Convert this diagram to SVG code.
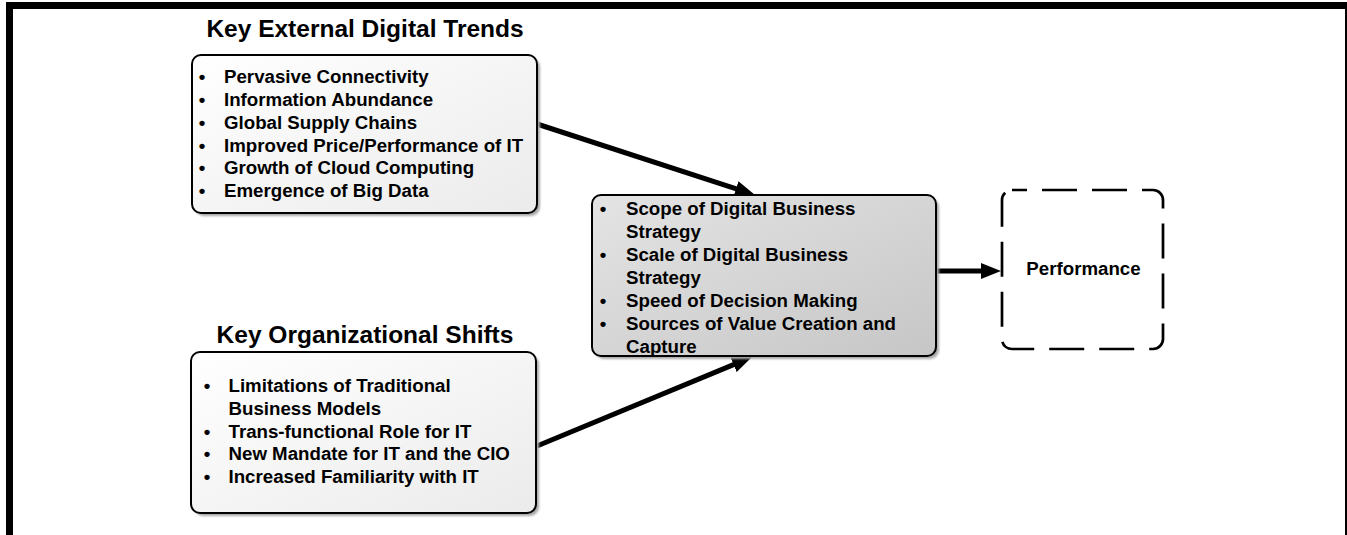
<svg xmlns="http://www.w3.org/2000/svg" width="1347" height="535" viewBox="0 0 1347 535">
<defs>
<linearGradient id="gLight" x1="0" y1="0" x2="1" y2="1">
<stop offset="0" stop-color="#ffffff"/>
<stop offset="1" stop-color="#ebebeb"/>
</linearGradient>
<linearGradient id="gGray" x1="0" y1="0" x2="1" y2="1">
<stop offset="0" stop-color="#e4e4e4"/>
<stop offset="1" stop-color="#c6c6c6"/>
</linearGradient>
<filter id="shadow" x="-5%" y="-5%" width="115%" height="115%">
<feGaussianBlur stdDeviation="1"/>
</filter>
<marker id="arrow" viewBox="0 0 20 16" refX="2" refY="8" markerWidth="20" markerHeight="16" markerUnits="userSpaceOnUse" orient="auto">
<path d="M0,0 L20,8 L0,16 z" fill="#000"/>
</marker>
</defs>
<style>
.title{font-family:"Liberation Sans",Arial,sans-serif;font-weight:bold;font-size:24.5px;fill:#000;text-anchor:middle}
.item{font-family:"Liberation Sans",Arial,sans-serif;font-weight:bold;font-size:18.7px;fill:#000}
.box{stroke:#000;stroke-width:2}
.shadow{fill:#a8a8a8;filter:url(#shadow)}
.conn{stroke:#000;stroke-width:5;fill:none;marker-end:url(#arrow)}
</style>
<rect width="1347" height="535" fill="#fff"/>
<g id="frame">
<rect x="6" y="2" width="7" height="533" fill="#000"/>
<rect x="6" y="2" width="1341" height="7" fill="#000"/>
<rect x="1345" y="2" width="2" height="533" fill="#000"/>
</g>
<g id="connectors">
<line class="conn" x1="537" y1="124" x2="737.9" y2="189.4"/>
<line class="conn" x1="537" y1="446" x2="735.4" y2="363.9"/>
<line class="conn" x1="936" y1="271" x2="983" y2="271"/>
</g>
<g id="external-trends">
<text class="title" x="365" y="37">Key External Digital Trends</text>
<rect class="shadow" x="195" y="58" width="345" height="158" rx="9"/>
<rect class="box" x="192" y="55" width="345" height="158" rx="9" fill="url(#gLight)"/>
<text class="item">
<tspan x="198.7" y="83.3">•</tspan><tspan x="224" y="83.3">Pervasive Connectivity</tspan>
<tspan x="198.7" y="106">•</tspan><tspan x="224" y="106">Information Abundance</tspan>
<tspan x="198.7" y="128.8">•</tspan><tspan x="224" y="128.8">Global Supply Chains</tspan>
<tspan x="198.7" y="151.6">•</tspan><tspan x="224" y="151.6">Improved Price/Performance of IT</tspan>
<tspan x="198.7" y="174.4">•</tspan><tspan x="224" y="174.4">Growth of Cloud Computing</tspan>
<tspan x="198.7" y="197.2">•</tspan><tspan x="224" y="197.2">Emergence of Big Data</tspan>
</text>
</g>
<g id="organizational-shifts">
<text class="title" x="365" y="343">Key Organizational Shifts</text>
<rect class="shadow" x="194" y="355" width="345" height="161" rx="9"/>
<rect class="box" x="191" y="352" width="345" height="161" rx="9" fill="url(#gLight)"/>
<text class="item">
<tspan x="203.7" y="392">•</tspan><tspan x="228.5" y="392">Limitations of Traditional</tspan>
<tspan x="228.5" y="414.8">Business Models</tspan>
<tspan x="203.7" y="437.6">•</tspan><tspan x="228.5" y="437.6">Trans-functional Role for IT</tspan>
<tspan x="203.7" y="460.4">•</tspan><tspan x="228.5" y="460.4">New Mandate for IT and the CIO</tspan>
<tspan x="203.7" y="483.2">•</tspan><tspan x="228.5" y="483.2">Increased Familiarity with IT</tspan>
</text>
</g>
<g id="digital-strategy">
<rect class="shadow" x="595" y="198" width="344" height="161" rx="9"/>
<rect class="box" x="592" y="195" width="344" height="161" rx="9" fill="url(#gGray)"/>
<text class="item">
<tspan x="599.7" y="215">•</tspan><tspan x="626" y="215">Scope of Digital Business</tspan>
<tspan x="626" y="238">Strategy</tspan>
<tspan x="599.7" y="261">•</tspan><tspan x="626" y="261">Scale of Digital Business</tspan>
<tspan x="626" y="284">Strategy</tspan>
<tspan x="599.7" y="307">•</tspan><tspan x="626" y="307">Speed of Decision Making</tspan>
<tspan x="599.7" y="330">•</tspan><tspan x="626" y="330">Sources of Value Creation and</tspan>
<tspan x="626" y="353">Capture</tspan>
</text>
</g>
<g id="performance">
<rect x="1002" y="190" width="161" height="159" rx="10" fill="none" stroke="#000" stroke-width="2.7" stroke-dasharray="35 15" stroke-dashoffset="20"/>
<text class="item" x="1083.5" y="275" text-anchor="middle">Performance</text>
</g>
</svg>
